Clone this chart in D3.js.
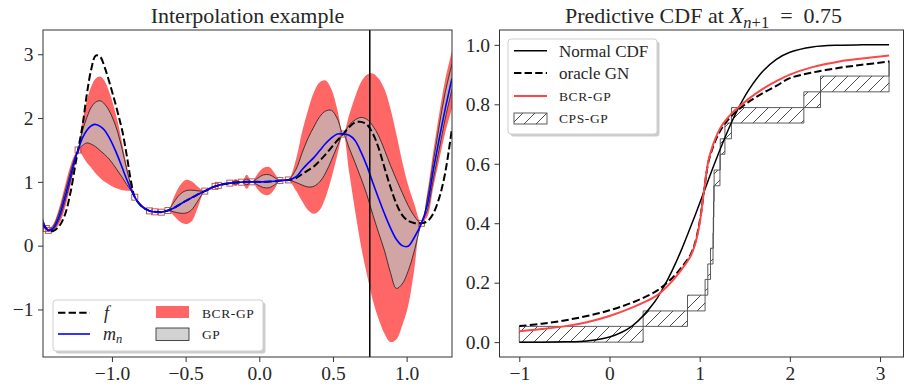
<!DOCTYPE html>
<html>
<head>
<meta charset="utf-8">
<script src="https://cdn.jsdelivr.net/npm/d3@7/dist/d3.min.js"></script>
<style>
  html, body { margin: 0; padding: 0; background: #fff; }
  svg { display: block; }
</style>
</head>
<body>
<svg id="chart" width="905" height="385"></svg>
<script>
// ---------- Left panel: interpolation example ----------
const gridX = [-1.468, -1.446, -1.432, -1.40, -1.36, -1.32, -1.28, -1.25, -1.23, -1.20,
  -1.17, -1.14, -1.11, -1.08, -1.05, -1.02, -0.99, -0.96, -0.93, -0.90,
  -0.87, -0.845, -0.80, -0.745, -0.71, -0.665, -0.62, -0.58, -0.54, -0.50,
  -0.46, -0.42, -0.37, -0.335, -0.30, -0.278, -0.24, -0.20, -0.16, -0.12,
  -0.085, -0.05, -0.01, 0.03, 0.07, 0.105, 0.14, 0.17, 0.197, 0.25,
  0.29, 0.33, 0.37, 0.41, 0.45, 0.49, 0.53, 0.57, 0.61, 0.65,
  0.69, 0.73, 0.77, 0.81, 0.85, 0.89, 0.93, 0.97, 1.01, 1.05,
  1.10, 1.14, 1.18, 1.22, 1.26, 1.308];

// true function f
const fTrue = [0.33, 0.27, 0.24, 0.23, 0.30, 0.48, 0.85, 1.25, 1.50, 1.88,
  2.38, 2.77, 2.98, 2.96, 2.80, 2.58, 2.34, 2.08, 1.80, 1.42,
  1.00, 0.76, 0.62, 0.545, 0.53, 0.525, 0.55, 0.59, 0.645, 0.70,
  0.75, 0.80, 0.855, 0.895, 0.93, 0.945, 0.965, 0.98, 0.99, 0.995,
  1.0, 1.0, 1.0, 1.0, 1.005, 1.01, 1.02, 1.025, 1.03, 1.06,
  1.12, 1.18, 1.24, 1.33, 1.43, 1.54, 1.65, 1.75, 1.86, 1.93,
  1.94, 1.90, 1.76, 1.53, 1.22, 0.92, 0.66, 0.48, 0.39, 0.355,
  0.35, 0.38, 0.50, 0.74, 1.12, 1.84];

// posterior mean m_n
const gpMean = [0.36, 0.27, 0.24, 0.27, 0.45, 0.75, 1.10, 1.36, 1.50, 1.69,
  1.81, 1.88, 1.90, 1.87, 1.81, 1.70, 1.56, 1.40, 1.22, 1.04,
  0.88, 0.76, 0.62, 0.545, 0.53, 0.525, 0.55, 0.59, 0.645, 0.70,
  0.75, 0.80, 0.855, 0.895, 0.93, 0.945, 0.965, 0.98, 0.99, 0.995,
  1.0, 1.0, 1.0, 1.0, 1.005, 1.01, 1.02, 1.025, 1.03, 1.08,
  1.19, 1.29, 1.38, 1.49, 1.60, 1.69, 1.75, 1.75, 1.73, 1.65,
  1.47, 1.25, 0.99, 0.74, 0.50, 0.28, 0.10, 0.0, -0.01, 0.12,
  0.35, 0.64, 1.17, 1.66, 2.12, 2.62];

// GP credible band
const gpLower = [0.31, 0.265, 0.235, 0.25, 0.40, 0.68, 1.03, 1.33, 1.50, 1.57,
  1.61, 1.59, 1.55, 1.49, 1.43, 1.36, 1.27, 1.17, 1.07, 0.96,
  0.86, 0.76, 0.61, 0.545, 0.53, 0.525, 0.55, 0.53, 0.51, 0.51,
  0.56, 0.69, 0.855, 0.885, 0.93, 0.945, 0.955, 0.98, 0.965, 0.995,
  0.955, 1.0, 0.95, 0.91, 0.91, 0.955, 1.02, 1.02, 1.03, 0.99,
  0.95, 0.92, 0.93, 1.00, 1.14, 1.34, 1.56, 1.75, 1.53, 1.30,
  1.06, 0.80, 0.49, 0.20, -0.08, -0.42, -0.67, -0.60, -0.40, -0.10,
  0.35, 0.55, 1.03, 1.50, 1.97, 2.45];
const gpUpper = [0.40, 0.275, 0.245, 0.30, 0.51, 0.83, 1.17, 1.40, 1.50, 1.80,
  2.01, 2.17, 2.25, 2.27, 2.22, 2.12, 1.97, 1.77, 1.50, 1.20,
  0.93, 0.76, 0.635, 0.545, 0.53, 0.525, 0.55, 0.68, 0.80, 0.86,
  0.87, 0.86, 0.855, 0.905, 0.93, 0.945, 0.975, 0.98, 1.015, 0.995,
  1.045, 1.0, 1.06, 1.11, 1.11, 1.065, 1.02, 1.03, 1.03, 1.20,
  1.45, 1.68, 1.86, 2.02, 2.11, 2.12, 1.99, 1.75, 1.89, 1.97,
  2.01, 1.98, 1.88, 1.72, 1.50, 1.26, 1.04, 0.83, 0.63, 0.47,
  0.35, 0.73, 1.30, 1.86, 2.38, 2.85];

// BCR-GP band
const bcrLower = [0.25, 0.26, 0.23, 0.22, 0.33, 0.58, 0.95, 1.29, 1.50, 1.41,
  1.30, 1.22, 1.13, 1.06, 1.00, 0.96, 0.92, 0.89, 0.87, 0.86,
  0.85, 0.76, 0.60, 0.545, 0.53, 0.525, 0.55, 0.47, 0.38, 0.34,
  0.38, 0.58, 0.855, 0.875, 0.93, 0.945, 0.945, 0.98, 0.935, 0.995,
  0.89, 1.0, 0.88, 0.80, 0.80, 0.89, 1.02, 1.015, 1.03, 0.86,
  0.70, 0.56, 0.50, 0.56, 0.76, 1.06, 1.42, 1.75, 1.15, 0.55,
  0.0, -0.45, -0.85, -1.15, -1.38, -1.51, -1.47, -1.25, -0.95, -0.40,
  0.35, 0.45, 0.90, 1.33, 1.75, 2.15];
const bcrUpper = [0.45, 0.28, 0.25, 0.33, 0.58, 0.93, 1.27, 1.44, 1.50, 1.95,
  2.28, 2.50, 2.62, 2.65, 2.58, 2.42, 2.20, 1.93, 1.60, 1.26,
  0.96, 0.76, 0.65, 0.545, 0.53, 0.525, 0.55, 0.76, 0.94, 1.03,
  1.01, 0.93, 0.855, 0.915, 0.93, 0.945, 0.985, 0.98, 1.045, 0.995,
  1.11, 1.0, 1.13, 1.22, 1.23, 1.13, 1.02, 1.035, 1.03, 1.36,
  1.78, 2.12, 2.40, 2.56, 2.59, 2.45, 2.13, 1.75, 2.05, 2.33,
  2.56, 2.68, 2.70, 2.62, 2.45, 2.15, 1.75, 1.32, 0.95, 0.67,
  0.35, 0.83, 1.46, 2.05, 2.58, 3.05];

// observed design points
const obsX = [-1.446, -1.432, -1.23, -0.845, -0.745, -0.71, -0.665, -0.62, -0.37,
  -0.30, -0.278, -0.20, -0.12, -0.05, 0.14, 0.197, 0.57, 1.10];
const obsY = [0.27, 0.24, 1.50, 0.76, 0.545, 0.53, 0.525, 0.55, 0.855,
  0.93, 0.945, 0.98, 0.995, 1.0, 1.02, 1.03, 1.75, 0.35];

const xNew = 0.75;

// ---------- Right panel: predictive CDFs ----------
const cdfX = [-1, -0.75, -0.5, -0.25, 0, 0.25, 0.5, 0.6, 0.7, 0.8,
  0.9, 0.95, 1.0, 1.04, 1.075, 1.1, 1.15, 1.2, 1.26, 1.35,
  1.45, 1.55, 1.7, 1.85, 2.0, 2.25, 2.55, 2.8, 3.1];
const normalCdf = [0.000, 0.000, 0.001, 0.004, 0.017, 0.054, 0.135, 0.185, 0.244, 0.312,
  0.388, 0.427, 0.467, 0.500, 0.528, 0.549, 0.589, 0.628, 0.673, 0.737,
  0.799, 0.851, 0.911, 0.951, 0.975, 0.993, 0.999, 1.000, 1.000];
const oracleCdf = [0.054, 0.062, 0.073, 0.088, 0.107, 0.133, 0.168, 0.190, 0.217, 0.252,
  0.295, 0.335, 0.405, 0.490, 0.568, 0.610, 0.658, 0.695, 0.727, 0.760,
  0.787, 0.810, 0.838, 0.862, 0.888, 0.907, 0.923, 0.933, 0.944];
const bcrCdf = [0.037, 0.044, 0.053, 0.067, 0.088, 0.116, 0.152, 0.176, 0.207, 0.245,
  0.290, 0.330, 0.400, 0.490, 0.570, 0.615, 0.665, 0.703, 0.735, 0.768,
  0.795, 0.820, 0.852, 0.878, 0.900, 0.925, 0.944, 0.954, 0.964];

// conformal predictive system: step boxes
const cpsEdges = [-1, 0.373, 0.865, 1.06, 1.09, 1.12, 1.148, 1.151, 1.154, 1.157,
  1.16, 1.225, 1.228, 1.28, 1.352, 2.155, 2.34, 3.1, 3.1];
const cpsLower = [0.000, 0.053, 0.105, 0.158, 0.211, 0.263, 0.316, 0.368, 0.421, 0.474,
  0.526, 0.579, 0.632, 0.684, 0.737, 0.789, 0.842, 0.895];
const cpsUpper = [0.053, 0.105, 0.158, 0.211, 0.263, 0.316, 0.368, 0.421, 0.474, 0.526,
  0.579, 0.632, 0.684, 0.737, 0.789, 0.842, 0.895, 0.947];

const leftXTicks = [-1.0, -0.5, 0.0, 0.5, 1.0];
const leftYTicks = [-1, 0, 1, 2, 3];
const rightXTicks = [-1, 0, 1, 2, 3];
const rightYTicks = [0.0, 0.2, 0.4, 0.6, 0.8, 1.0];

// ---------- drawing ----------
const FONT = '"Liberation Serif", "DejaVu Serif", serif';
const INK = "#262626";
const SPINE = "#333";
const svg = d3.select("#chart");
const defs = svg.append("defs");

const pat = defs.append("pattern").attr("id", "hatch")
  .attr("patternUnits", "userSpaceOnUse").attr("width", 12).attr("height", 12);
pat.append("path").attr("d", "M-3,3 L3,-3 M0,12 L12,0 M9,15 L15,9")
  .attr("stroke", "#222").attr("stroke-width", 0.8).attr("fill", "none");

const PL = { left: 43, right: 452, top: 30, bottom: 357 };
const PR = { left: 499.5, right: 903.5, top: 30, bottom: 357 };

defs.append("clipPath").attr("id", "clipL").append("rect")
  .attr("x", PL.left).attr("y", PL.top).attr("width", PL.right - PL.left).attr("height", PL.bottom - PL.top);
defs.append("clipPath").attr("id", "clipR").append("rect")
  .attr("x", PR.left).attr("y", PR.top).attr("width", PR.right - PR.left).attr("height", PR.bottom - PR.top);

const xL = d3.scaleLinear().domain([-1.468, 1.308]).range([PL.left, PL.right]);
const yL = d3.scaleLinear().domain([-1.745, 3.38]).range([PL.bottom, PL.top]);
const xR = d3.scaleLinear().domain([-1.2195, 3.26]).range([PR.left, PR.right]);
const yR = d3.scaleLinear().domain([-0.05, 1.05]).range([PR.bottom, PR.top]);

const smooth = d3.curveCatmullRom.alpha(0.5);
const idx = d3.range(gridX.length);

// ---- left panel marks ----
const gL = svg.append("g").attr("clip-path", "url(#clipL)");

gL.append("path")
  .attr("d", d3.area().curve(smooth)
    .x(i => xL(gridX[i])).y0(i => yL(bcrLower[i])).y1(i => yL(bcrUpper[i]))(idx))
  .attr("fill", "#ff6666");

gL.append("path")
  .attr("d", d3.area().curve(smooth)
    .x(i => xL(gridX[i])).y0(i => yL(gpLower[i])).y1(i => yL(gpUpper[i]))(idx))
  .attr("fill", "#c0c0c0").attr("fill-opacity", 0.71);

[gpLower, gpUpper].forEach(arr => {
  gL.append("path")
    .attr("d", d3.line().curve(smooth).x(i => xL(gridX[i])).y(i => yL(arr[i]))(idx))
    .attr("fill", "none").attr("stroke", "#1a1a1a").attr("stroke-width", 0.8);
});

gL.selectAll("rect.obs").data(d3.range(obsX.length)).join("rect")
  .attr("class", "obs")
  .attr("x", i => xL(obsX[i]) - 3).attr("y", i => yL(obsY[i]) - 3)
  .attr("width", 6).attr("height", 6)
  .attr("fill", "none").attr("stroke", "#b54a4a").attr("stroke-width", 0.9);

gL.append("path")
  .attr("d", d3.line().curve(smooth).x(i => xL(gridX[i])).y(i => yL(fTrue[i]))(idx))
  .attr("fill", "none").attr("stroke", "#000").attr("stroke-width", 2)
  .attr("stroke-dasharray", "7.4,3.2");

gL.append("path")
  .attr("d", d3.line().curve(smooth).x(i => xL(gridX[i])).y(i => yL(gpMean[i]))(idx))
  .attr("fill", "none").attr("stroke", "#0000ff").attr("stroke-width", 1.6);

gL.append("line")
  .attr("x1", xL(xNew)).attr("x2", xL(xNew)).attr("y1", PL.top).attr("y2", PL.bottom)
  .attr("stroke", "#000").attr("stroke-width", 1.5);

// ---- right panel marks ----
const gR = svg.append("g").attr("clip-path", "url(#clipR)");

gR.selectAll("path.cps").data(d3.range(cpsLower.length)).join("path")
  .attr("class", "cps")
  .attr("d", k => {
    const x0 = xR(cpsEdges[k]), x1 = xR(cpsEdges[k + 1]);
    const y0 = yR(cpsLower[k]), y1 = yR(cpsUpper[k]);
    return `M${x0},${y0}H${x1}V${y1}H${x0}Z`;
  })
  .attr("fill", "url(#hatch)").attr("stroke", "#4a4a4a").attr("stroke-width", 0.9);

const cdfIdx = d3.range(cdfX.length);
const cdfLine = arr => d3.line().curve(smooth).x(i => xR(cdfX[i])).y(i => yR(arr[i]))(cdfIdx);

gR.append("path").attr("d", cdfLine(normalCdf))
  .attr("fill", "none").attr("stroke", "#000").attr("stroke-width", 1.5);
gR.append("path").attr("d", cdfLine(oracleCdf))
  .attr("fill", "none").attr("stroke", "#000").attr("stroke-width", 2)
  .attr("stroke-dasharray", "7.4,3.2");
gR.append("path").attr("d", cdfLine(bcrCdf))
  .attr("fill", "none").attr("stroke", "#ff4545").attr("stroke-width", 2);

// ---- frames and axes ----
function frame(p) {
  svg.append("rect")
    .attr("x", p.left).attr("y", p.top).attr("width", p.right - p.left).attr("height", p.bottom - p.top)
    .attr("fill", "none").attr("stroke", SPINE).attr("stroke-width", 1);
}
frame(PL);
frame(PR);

function styleAxis(g) {
  g.select(".domain").remove();
  g.selectAll(".tick line").attr("stroke", SPINE).attr("stroke-width", 1);
  g.selectAll(".tick text").attr("fill", INK)
    .style("font-family", FONT).style("font-size", "19.5px");
}

svg.append("g").attr("transform", `translate(0,${PL.bottom})`)
  .call(d3.axisBottom(xL).tickValues(leftXTicks).tickFormat(d3.format(".1f")).tickSize(5).tickPadding(4.5))
  .call(styleAxis);
svg.append("g").attr("transform", `translate(${PL.left},0)`)
  .call(d3.axisLeft(yL).tickValues(leftYTicks).tickFormat(d3.format("d")).tickSize(5).tickPadding(4.5))
  .call(styleAxis);
svg.append("g").attr("transform", `translate(0,${PR.bottom})`)
  .call(d3.axisBottom(xR).tickValues(rightXTicks).tickFormat(d3.format("d")).tickSize(5).tickPadding(4.5))
  .call(styleAxis);
svg.append("g").attr("transform", `translate(${PR.left},0)`)
  .call(d3.axisLeft(yR).tickValues(rightYTicks).tickFormat(d3.format(".1f")).tickSize(5).tickPadding(4.5))
  .call(styleAxis);

// ---- titles ----
svg.append("text")
  .attr("x", (PL.left + PL.right) / 2).attr("y", 23).attr("text-anchor", "middle")
  .style("font-family", FONT).style("font-size", "22px").attr("fill", INK)
  .text("Interpolation example");

const tR = svg.append("text")
  .attr("x", (PR.left + PR.right) / 2 + 2).attr("y", 23).attr("text-anchor", "middle")
  .style("font-family", FONT).style("font-size", "22px").attr("fill", INK);
tR.append("tspan").text("Predictive CDF at ");
tR.append("tspan").style("font-style", "italic").style("font-size", "23px").text("X");
tR.append("tspan").attr("dy", 5).style("font-size", "16.5px").style("font-style", "italic").text("n");
tR.append("tspan").style("font-size", "16.5px").text("+1");
tR.append("tspan").attr("dy", -5).text("\u2002=\u20020.75");

// ---- legends ----
function legendBox(x, y, w, h) {
  svg.append("rect").attr("x", x + 2.5).attr("y", y + 2.5).attr("width", w).attr("height", h)
    .attr("rx", 3).attr("fill", "#9a9a9a").attr("fill-opacity", 0.5);
  svg.append("rect").attr("x", x).attr("y", y).attr("width", w).attr("height", h)
    .attr("rx", 3).attr("fill", "#fff").attr("stroke", "#cfcfcf").attr("stroke-width", 1);
}
function legendLine(x0, x1, y, color, width, dash) {
  const l = svg.append("line").attr("x1", x0).attr("x2", x1).attr("y1", y).attr("y2", y)
    .attr("stroke", color).attr("stroke-width", width);
  if (dash) l.attr("stroke-dasharray", dash);
}
function legendText(x, y, size, italic) {
  return svg.append("text").attr("x", x).attr("y", y)
    .style("font-family", FONT).style("font-size", size + "px")
    .style("font-style", italic ? "italic" : "normal").attr("fill", INK);
}

// left legend
legendBox(53, 300, 210, 51);
legendLine(58, 90, 312.7, "#000", 2, "7.4,3.2");
legendText(104, 318.5, 18, true).text("f");
legendLine(58, 90, 334, "#0000ff", 1.6);
const mn = legendText(103, 339.5, 18, true);
mn.append("tspan").text("m");
mn.append("tspan").attr("dy", 3.5).style("font-size", "12.5px").text("n");
svg.append("rect").attr("x", 156).attr("y", 306).attr("width", 33).attr("height", 12).attr("fill", "#ff6666");
legendText(202, 317.5, 13.5).style("letter-spacing", "0.6px").text("BCR-GP");
svg.append("rect").attr("x", 156).attr("y", 328).attr("width", 33).attr("height", 12.5)
  .attr("fill", "#c0c0c0").attr("fill-opacity", 0.71).attr("stroke", "#222").attr("stroke-width", 0.8);
legendText(202, 339, 13.5).style("letter-spacing", "0.6px").text("GP");

// right legend
legendBox(508, 39, 149, 95);
legendLine(514, 547, 50.7, "#000", 1.5);
legendText(559, 56.8, 17).text("Normal CDF");
legendLine(514, 547, 73, "#000", 2, "7.4,3.2");
legendText(559, 79, 17).text("oracle GN");
legendLine(514, 547, 96, "#ff4545", 2);
legendText(559, 100.5, 13.5).style("letter-spacing", "0.6px").text("BCR-GP");
svg.append("rect").attr("x", 514).attr("y", 113).attr("width", 33).attr("height", 11)
  .attr("fill", "url(#hatch)").attr("stroke", "#4a4a4a").attr("stroke-width", 0.9);
legendText(559, 123, 13.5).style("letter-spacing", "0.6px").text("CPS-GP");
</script>
</body>
</html>
